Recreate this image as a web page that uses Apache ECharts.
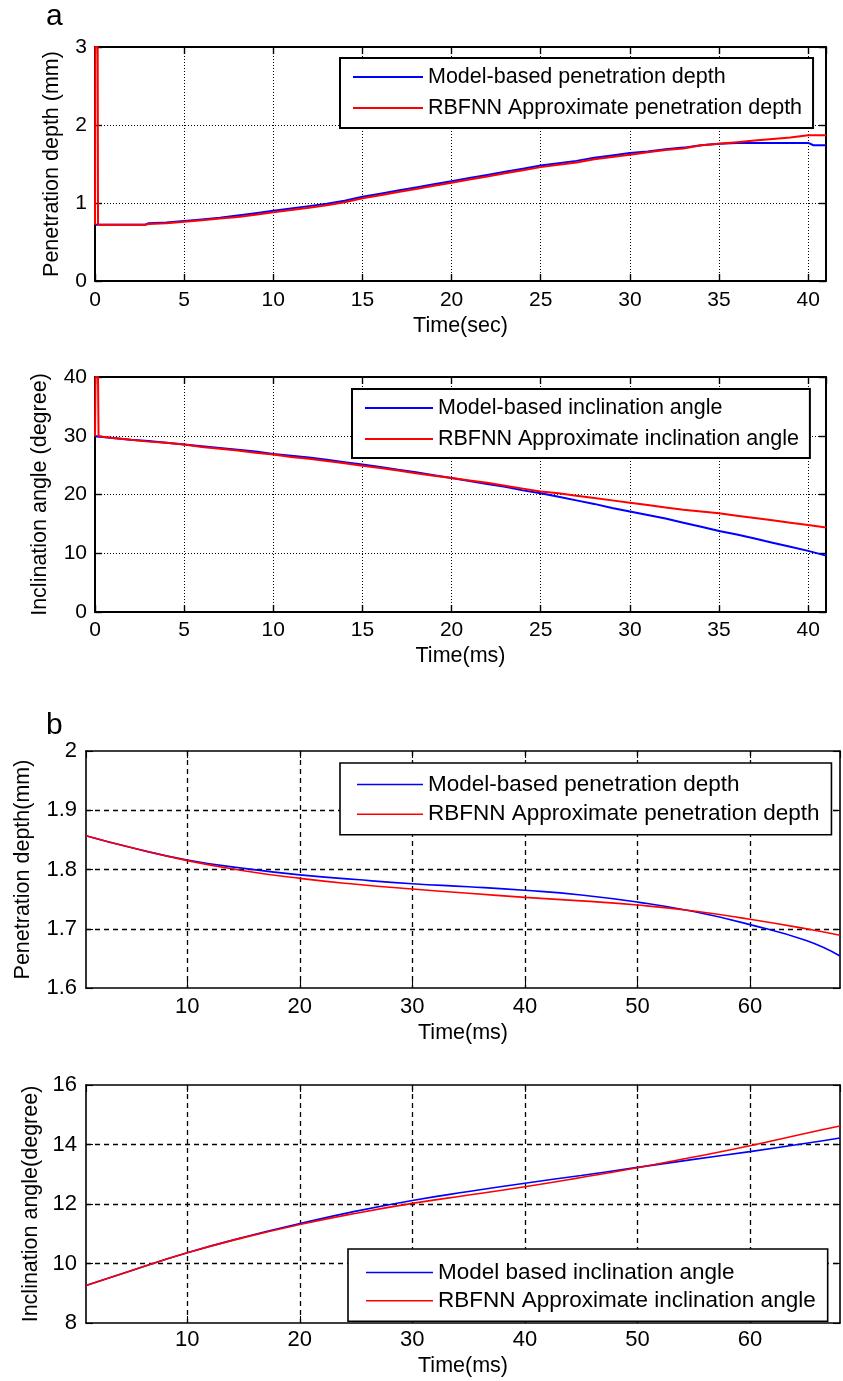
<!DOCTYPE html>
<html><head><meta charset="utf-8">
<script src="https://cdn.jsdelivr.net/npm/echarts@6/dist/echarts.min.js"></script>
<style>html,body{margin:0;padding:0;background:#fff}#c{width:843px;height:1381px}</style>
</head><body><div id="c"></div>
<script>
// ---------- Panel a, chart 1: penetration depth (mm) vs Time(sec) ----------
const a1Time   = [0,1,2,2.8,3,4,5,6,7,8,9,10,11,12,13,14,15,16,17,18,19,20,21,22,23,24,25,26,27,28,29,30,31,32,33,34,35,36,37,38,39,40,40.3,41];
const a1Model  = [0.72,0.72,0.72,0.72,0.74,0.75,0.77,0.79,0.81,0.84,0.87,0.90,0.93,0.96,0.99,1.03,1.08,1.12,1.16,1.20,1.24,1.28,1.32,1.36,1.40,1.44,1.48,1.51,1.54,1.58,1.61,1.64,1.66,1.69,1.71,1.74,1.76,1.77,1.77,1.77,1.77,1.77,1.74,1.74];
const a1Rbfnn  = [0.72,0.72,0.72,0.72,0.73,0.74,0.76,0.78,0.80,0.82,0.85,0.88,0.91,0.94,0.97,1.01,1.06,1.10,1.14,1.18,1.22,1.26,1.30,1.34,1.38,1.42,1.46,1.49,1.52,1.56,1.59,1.62,1.65,1.68,1.70,1.74,1.76,1.78,1.80,1.82,1.84,1.87,1.87,1.87];
const a1SpikeTime  = [0,0.02,0.15,0.17];
const a1SpikeValue = [0.72,3,3,0.72];

// ---------- Panel a, chart 2: inclination angle (degree) vs Time(ms) ----------
const a2Time  = [0,1,2,3,4,5,6,7,8,9,10,11,12,13,14,15,16,17,18,19,20,21,22,23,24,25,26,27,28,29,30,31,32,33,34,35,36,37,38,39,40,41];
const a2Model = [29.9,29.6,29.3,29.1,28.8,28.5,28.2,27.9,27.6,27.3,26.9,26.6,26.3,25.9,25.5,25.1,24.7,24.2,23.8,23.3,22.8,22.3,21.8,21.3,20.7,20.2,19.6,19.0,18.4,17.7,17.1,16.5,15.9,15.2,14.5,13.8,13.2,12.5,11.8,11.1,10.4,9.6];
const a2Rbfnn = [29.9,29.6,29.3,29.0,28.8,28.5,28.1,27.8,27.5,27.1,26.8,26.4,26.1,25.7,25.3,24.9,24.5,24.1,23.6,23.2,22.8,22.4,22.0,21.5,21.0,20.5,20.2,19.8,19.4,19.0,18.6,18.2,17.8,17.4,17.1,16.8,16.4,16.0,15.6,15.2,14.8,14.4];
const a2SpikeTime  = [0,0.03,0.17,0.2];
const a2SpikeValue = [29.9,40,40,29.9];

// ---------- Panel b, chart 3: penetration depth (mm) vs Time(ms) ----------
const b1Time  = [1,5,10,15,20,25,30,35,40,45,50,55,60,65,68];
const b1Model = [1.857,1.837,1.816,1.802,1.791,1.783,1.776,1.771,1.765,1.757,1.745,1.729,1.707,1.680,1.654];
const b1Rbfnn = [1.857,1.837,1.815,1.798,1.785,1.775,1.767,1.760,1.753,1.747,1.740,1.730,1.716,1.700,1.689];

// ---------- Panel b, chart 4: inclination angle (degree) vs Time(ms) ----------
const b2Time  = [1,5,10,15,20,25,30,35,40,45,50,55,60,65,68];
const b2Model = [9.26,9.76,10.36,10.88,11.34,11.76,12.12,12.42,12.70,12.96,13.23,13.50,13.76,14.04,14.22];
const b2Rbfnn = [9.26,9.76,10.36,10.87,11.31,11.69,12.02,12.30,12.58,12.89,13.22,13.58,13.96,14.38,14.62];

// ---------- Text ----------
const legendA1 = ['Model-based penetration depth','RBFNN Approximate penetration depth'];
const legendA2 = ['Model-based inclination angle','RBFNN Approximate inclination angle'];
const legendB1 = ['Model-based penetration depth','RBFNN Approximate penetration depth'];
const legendB2 = ['Model based inclination angle','RBFNN Approximate inclination angle'];
const yNames = ['Penetration depth (mm)','Inclination angle (degree)','Penetration depth(mm)','Inclination angle(degree)'];
const xNames = ['Time(sec)','Time(ms)','Time(ms)','Time(ms)'];

const FONT = "'Liberation Sans', Arial, sans-serif";
const BLUE = '#0000ff', RED = '#ff0000';
const pairs = (xs, ys) => xs.map((x, i) => [x, ys[i]]);

const panels = [
  { grid:{left:95,top:47,width:731,height:234}, x:{min:0,max:41,interval:5}, y:{min:0,max:3,interval:1},
    names:legendA1, model:pairs(a1Time,a1Model), rbf:pairs(a1SpikeTime,a1SpikeValue).concat(pairs(a1Time.slice(1),a1Rbfnn.slice(1))),
    grid2:'a', lw:2, axw:2, legend:{left:340,top:58,pad:[8,11,9,13],iw:70,gap:9,fs:21.5},
    yGap:32, xGap:34, tickFs:21, xMargin:9, yMargin:8 },
  { grid:{left:95,top:377,width:731,height:235}, x:{min:0,max:41,interval:5}, y:{min:0,max:40,interval:10},
    names:legendA2, model:pairs(a2Time,a2Model), rbf:pairs(a2SpikeTime,a2SpikeValue).concat(pairs(a2Time.slice(1),a2Rbfnn.slice(1))),
    grid2:'a', lw:2, axw:2, legend:{left:352,top:389,pad:[8,11,8,13],iw:68,gap:9,fs:21.5},
    yGap:44, xGap:33, tickFs:21, xMargin:8, yMargin:8 },
  { grid:{left:86,top:751,width:754,height:237}, x:{min:1,max:68,fixed10:true}, y:{min:1.6,max:2,interval:0.1},
    names:legendB1, model:pairs(b1Time,b1Model), rbf:pairs(b1Time,b1Rbfnn),
    grid2:'b', lw:1.6, axw:1.6, legend:{left:340,top:763,pad:[10,12,9,17],iw:66,gap:6.7,fs:22.5},
    yGap:52, xGap:34, tickFs:22, xMargin:8, yMargin:9, fmt:v => String(+(+v).toFixed(1)) },
  { grid:{left:86,top:1085,width:754,height:238}, x:{min:1,max:68,fixed10:true}, y:{min:8,max:16,interval:2},
    names:legendB2, model:pairs(b2Time,b2Model), rbf:pairs(b2Time,b2Rbfnn),
    grid2:'b', lw:1.6, axw:1.6, legend:{left:348,top:1249,pad:[12,12,9,18],iw:67,gap:5.3,fs:22.5},
    yGap:43, xGap:32, tickFs:22, xMargin:6, yMargin:9 }
];

const option = { animation:false, backgroundColor:'#fff', grid:[], xAxis:[], yAxis:[], series:[], legend:[],
  graphic:[
    {type:'text', left:46, top:2, style:{text:'a', font:'30px '+FONT, fill:'#000'}},
    {type:'text', left:46, top:711, style:{text:'b', font:'30px '+FONT, fill:'#000'}}
  ]};

panels.forEach((p, i) => {
  option.grid.push(Object.assign({containLabel:false}, p.grid));
  const splitStyle = p.grid2 === 'a'
    ? {color:'#000', width:1, type:[1,2]}
    : {color:'#000', width:1.3, type:[5,4]};
  const axisLine = {show:true, onZero:false, lineStyle:{color:'#000', width:p.axw}};
  const tick = {show:true, inside:true, length:7, lineStyle:{color:'#000', width:p.axw*0.7}};
  const xBase = {type:'value', gridIndex:i, min:p.x.min, max:p.x.max};
  if (p.x.fixed10) { xBase.minInterval = 10; xBase.maxInterval = 10; xBase.splitNumber = 6; }
  else xBase.interval = p.x.interval;
  const yBase = {type:'value', gridIndex:i, min:p.y.min, max:p.y.max, interval:p.y.interval};
  const labelStyle = {color:'#000', fontFamily:FONT, fontSize:p.tickFs};
  const split = {show:true, showMinLine:false, showMaxLine:false, lineStyle:splitStyle};
  option.xAxis.push(Object.assign({}, xBase, {
    position:'bottom', name:xNames[i], nameLocation:'middle', nameGap:p.xGap,
    nameTextStyle:{color:'#000', fontFamily:FONT, fontSize:21.5},
    axisLine, axisTick:tick,
    axisLabel:Object.assign({margin:p.xMargin, showMinLabel:!p.x.fixed10, showMaxLabel:false}, labelStyle),
    splitLine:split
  }));
  option.xAxis.push(Object.assign({}, xBase, {
    position:'top', axisLine, axisTick:tick, axisLabel:{show:false}, splitLine:{show:false}
  }));
  option.yAxis.push(Object.assign({}, yBase, {
    position:'left', name:yNames[i], nameLocation:'middle', nameGap:p.yGap, nameRotate:90,
    nameTextStyle:{color:'#000', fontFamily:FONT, fontSize:21.5},
    axisLine, axisTick:tick,
    axisLabel:Object.assign({margin:p.yMargin}, labelStyle, p.fmt ? {formatter:p.fmt} : {}),
    splitLine:split
  }));
  option.yAxis.push(Object.assign({}, yBase, {
    position:'right', axisLine, axisTick:tick, axisLabel:{show:false}, splitLine:{show:false}
  }));
  const xi = i*2, yi = i*2;
  const sm = p.grid2==='b' ? 0.5 : false;
  option.series.push({type:'line', name:p.names[0], xAxisIndex:xi, yAxisIndex:yi, data:p.model,
    symbol:'none', showSymbol:false, smooth:sm,
    lineStyle:{color:BLUE, width:p.lw}, itemStyle:{color:BLUE}, z:3});
  option.series.push({type:'line', name:p.names[1], xAxisIndex:xi, yAxisIndex:yi, data:p.rbf,
    symbol:'none', showSymbol:false, smooth:sm,
    lineStyle:{color:RED, width:p.lw}, itemStyle:{color:RED}, z:4});
  option.legend.push({
    data:p.names, orient:'vertical', left:p.legend.left, top:p.legend.top,
    padding:p.legend.pad, itemGap:p.legend.gap, itemWidth:p.legend.iw, itemHeight:p.lw,
    icon:'rect',
    backgroundColor:'#fff', borderColor:'#000', borderWidth:p.axw, borderRadius:0,
    selectedMode:false, z:10,
    textStyle:{color:'#000', fontFamily:FONT, fontSize:p.legend.fs, lineHeight:22}
  });
});

const chart = echarts.init(document.getElementById('c'), null, {renderer:'canvas'});
chart.setOption(option);
</script></body></html>
